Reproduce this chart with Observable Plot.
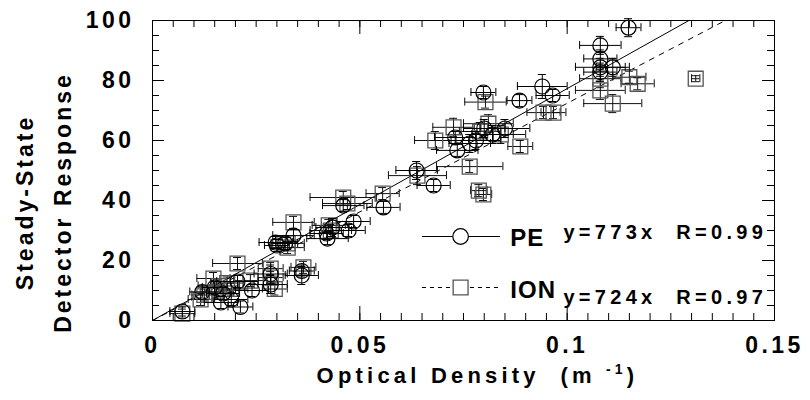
<!DOCTYPE html>
<html><head><meta charset="utf-8">
<script src="https://cdn.jsdelivr.net/npm/d3@7"></script>
<script src="https://cdn.jsdelivr.net/npm/@observablehq/plot@0.6"></script>
<style>
body{margin:0;background:#fff}
svg{font-family:"Liberation Sans",Arial,sans-serif;font-weight:700}
svg text{font-weight:700}
</style>
</head><body><div id="chart"></div>
<script>
// ---- data ----
const peX    = [0.0072,0.0212,0.024,0.0205,0.017,0.015,0.019,0.0285,0.0285,0.036,0.036,0.0297,0.034,0.0422,0.0434,0.0473,0.0485,0.046,0.0557,0.0637,0.0678,0.0735,0.073,0.078,0.082,0.085,0.0798,0.0885,0.094,0.0965,0.108,0.108,0.108,0.111,0.108,0.1148,0.042,0.030,0.032,0.0765,0.080,0.012,0.0165];
const peY    = [3.0,4.5,10,13,9,11,7,12,15.5,15,16.5,26,28.3,27.3,31,30,33,38.3,37.7,50,45,56.7,61,60,62,64,76,73.3,78,75,91.7,87.2,84.4,84.4,82.8,97.6,29,25,25.7,59,64,9.5,6];
const peXErr = [0.003,0.003,0.004,0.005,0.004,0.003,0.004,0.004,0.004,0.004,0.003,0.004,0.005,0.005,0.004,0.004,0.004,0.005,0.004,0.005,0.004,0.005,0.005,0.006,0.005,0.006,0.003,0.003,0.006,0.004,0.005,0.004,0.006,0.004,0.004,0.003,0.004,0.003,0.003,0.005,0.005,0.003,0.004];
const peYErr = [1.5,2,2,2,2,2,2,3,3,3,2,2,2,2,3,2,2,2,2,3,2,2,2,3,3,3,2,2,4,2,3,3,3,3,3,3,2,2,2,3,3,2,2];

const ionX    = [0.0072,0.0116,0.0125,0.0147,0.016,0.018,0.0205,0.0236,0.0285,0.0285,0.0364,0.0326,0.0326,0.034,0.043,0.0425,0.046,0.047,0.0555,0.0639,0.0682,0.0726,0.0765,0.0787,0.0798,0.0803,0.081,0.084,0.0887,0.0943,0.0967,0.108,0.108,0.111,0.115,0.117,0.131,0.0155,0.019,0.079,0.0295];
const ionY    = [2.3,7,8.5,14,11.5,12.5,19,13.3,17.3,14.3,17.7,25.7,24.3,32.7,30,31.7,41,39,42.3,48.3,60,64.4,51.3,43.3,42,72.8,65.6,62,58,69.3,69.3,80.6,76.7,72.3,81.1,78.9,80.6,9.5,10.5,63,10.5];
const ionXErr = [0.003,0.003,0.003,0.004,0.005,0.004,0.006,0.004,0.003,0.003,0.003,0.004,0.004,0.005,0.005,0.004,0.008,0.006,0.004,0.007,0.005,0.005,0.008,0.002,0.002,0.005,0.006,0.006,0.003,0.004,0.003,0.005,0.006,0.007,0.004,0.004,0.001,0.004,0.004,0.005,0.003];
const ionYErr = [1.5,2,2,2,2,2,2,2,2,2,2,2,2,2,2,2,2,2,2,3,3,3,2,2,2,2,3,3,2,2,2,3,3,3,2,2,1,2,2,3,2];

const seriesNames = ["PE", "ION"];
const fitSlopes = [773, 724];
const fitLabels = ["y=773x  R=0.99", "y=724x  R=0.97"];

const xTickValues = [0, 0.05, 0.1, 0.15];
const xTickLabels = ["0", "0.05", "0.1", "0.15"];
const yTickValues = [0, 20, 40, 60, 80, 100];
const yTickLabels = ["0", "20", "40", "60", "80", "100"];
const xTitle = "Optical Density  (m -1)";
const yTitle = "Steady-State\nDetector Response";

// ---- build ----
const pe = peX.map((x, i) => ({x, y: peY[i], xe: peXErr[i], ye: peYErr[i]}));
const ion = ionX.map((x, i) => ({x, y: ionY[i], xe: ionXErr[i], ye: ionYErr[i]}));
const peFit = [{x: 0, y: 0}, {x: 100 / fitSlopes[0], y: 100}];
const ionFit = [{x: 0, y: 0}, {x: 100 / fitSlopes[1], y: 100}];

const xMinor = d3.range(0, 30.5, 1).map(i => i * 0.005);
const yMinor = d3.range(0, 20.5, 1).map(i => i * 5);

const pxX = 0.15 / 622;   // data units per px horizontally
const pxY = 100 / 300;    // data units per px vertically

function errorMarks(data, stroke) {
  const cy = 4 * pxY, cx = 4 * pxX;
  return [
    Plot.ruleY(data, {y: "y", x1: d => d.x - d.xe, x2: d => d.x + d.xe, stroke, strokeWidth: 1}),
    Plot.ruleX(data, {x: d => d.x - d.xe, y1: d => d.y - cy, y2: d => d.y + cy, stroke, strokeWidth: 1}),
    Plot.ruleX(data, {x: d => d.x + d.xe, y1: d => d.y - cy, y2: d => d.y + cy, stroke, strokeWidth: 1}),
    Plot.ruleX(data, {x: "x", y1: d => d.y - d.ye, y2: d => d.y + d.ye, stroke, strokeWidth: 1}),
    Plot.ruleY(data, {y: d => d.y - d.ye, x1: d => d.x - cx, x2: d => d.x + cx, stroke, strokeWidth: 1}),
    Plot.ruleY(data, {y: d => d.y + d.ye, x1: d => d.x - cx, x2: d => d.x + cx, stroke, strokeWidth: 1})
  ];
}

const legendRows = [
  {name: seriesNames[0], eq: fitLabels[0], ly: 28, ty: 27.5, ey: 29.3},
  {name: seriesNames[1], eq: fitLabels[1], ly: 11, ty: 10, ey: 7.7}
];
const lx1 = 0.0651, lx2 = 0.0839, lxm = 0.0743, ltx = 0.0863, lex = 0.0991;

const chart = Plot.plot({
  width: 810, height: 400,
  marginLeft: 152, marginRight: 36, marginTop: 20, marginBottom: 80,
  x: {domain: [0, 0.15], label: null},
  y: {domain: [0, 100], label: null},
  style: {background: "#fff", color: "#000", fontFamily: "'Liberation Sans', Arial, sans-serif", fontSize: "23px"},
  marks: [
    Plot.line(peFit, {x: "x", y: "y", stroke: "#000", strokeWidth: 1}),
    Plot.line(ionFit, {x: "x", y: "y", stroke: "#000", strokeWidth: 1, strokeDasharray: "5,6"}),
    ...errorMarks(ion, "#111"),
    Plot.dot(ion, {x: "x", y: "y", symbol: "square", r: 8.4, stroke: "#555", strokeWidth: 1.3, fill: "none"}),
    ...errorMarks(pe, "#000"),
    Plot.dot(pe, {x: "x", y: "y", symbol: "circle", r: 7.5, stroke: "#000", strokeWidth: 1.2, fill: "none"}),
    Plot.frame({stroke: "#000", strokeWidth: 1}),
    Plot.ruleX(xMinor, {y1: 0, y2: 7 * pxY, stroke: "#000"}),
    Plot.ruleX(xMinor, {y1: 100, y2: 100 - 7 * pxY, stroke: "#000"}),
    Plot.ruleX(xTickValues, {y1: 0, y2: 14 * pxY, stroke: "#000"}),
    Plot.ruleX(xTickValues, {y1: 100, y2: 100 - 14 * pxY, stroke: "#000"}),
    Plot.ruleY(yMinor, {x1: 0, x2: 7 * pxX, stroke: "#000"}),
    Plot.ruleY(yMinor, {x1: 0.15, x2: 0.15 - 7 * pxX, stroke: "#000"}),
    Plot.ruleY(yTickValues, {x1: 0, x2: 12 * pxX, stroke: "#000"}),
    Plot.ruleY(yTickValues, {x1: 0.15, x2: 0.15 - 12 * pxX, stroke: "#000"}),
    Plot.axisX(xTickValues, {tickSize: 0, tickPadding: 16, fontSize: 23,
      tickFormat: d => xTickLabels[xTickValues.indexOf(d)]}),
    Plot.axisY(yTickValues, {tickSize: 0, tickPadding: 18, fontSize: 23,
      tickFormat: d => yTickLabels[yTickValues.indexOf(d)]}),
    Plot.text([xTitle], {frameAnchor: "bottom", textAnchor: "middle", dx: 14, dy: 62, fontSize: 22, text: d => d}),
    Plot.text([yTitle], {frameAnchor: "left", textAnchor: "middle", dx: -113, dy: 32, rotate: -90, fontSize: 23, lineHeight: 1.65, text: d => d}),
    Plot.ruleY([legendRows[0]], {y: "ly", x1: lx1, x2: lx2, stroke: "#000"}),
    Plot.ruleY([legendRows[1]], {y: "ly", x1: lx1, x2: lx2, stroke: "#000", strokeDasharray: "4,4"}),
    Plot.dot([legendRows[0]], {x: lxm, y: "ly", symbol: "circle", r: 7.8, stroke: "#000", strokeWidth: 1.2, fill: "#fff"}),
    Plot.dot([legendRows[1]], {x: lxm, y: "ly", symbol: "square", r: 8.4, stroke: "#555", strokeWidth: 1.3, fill: "#fff"}),
    Plot.text(legendRows, {x: ltx, y: "ty", text: "name", textAnchor: "start", fontSize: 24}),
    Plot.text(legendRows, {x: lex, y: "ey", text: "eq", textAnchor: "start", fontSize: 20})
  ]
});

const svg = d3.select(chart);
svg.selectAll("text").each(function() {
  const t = this.textContent;
  const el = d3.select(this);
  el.style("font-weight", "700").style("font-family", "'Liberation Sans', Arial, sans-serif");
  if (xTickLabels.includes(t) || yTickLabels.includes(t)) el.style("letter-spacing", "3.5px");
  else if (fitLabels.includes(t)) el.style("letter-spacing", "4.3px");
  else if (seriesNames.includes(t)) el.style("letter-spacing", "1px");
  else if (t === xTitle) {
    el.style("letter-spacing", "4.2px").text(null);
    el.append("tspan").text("Optical Density  (m ");
    el.append("tspan").attr("dy", "-9").attr("font-size", 14).text("-1");
    el.append("tspan").attr("dy", "9").text(")");
  } else el.style("letter-spacing", "3px");
});
document.getElementById("chart").appendChild(chart);
</script>
</body></html>
